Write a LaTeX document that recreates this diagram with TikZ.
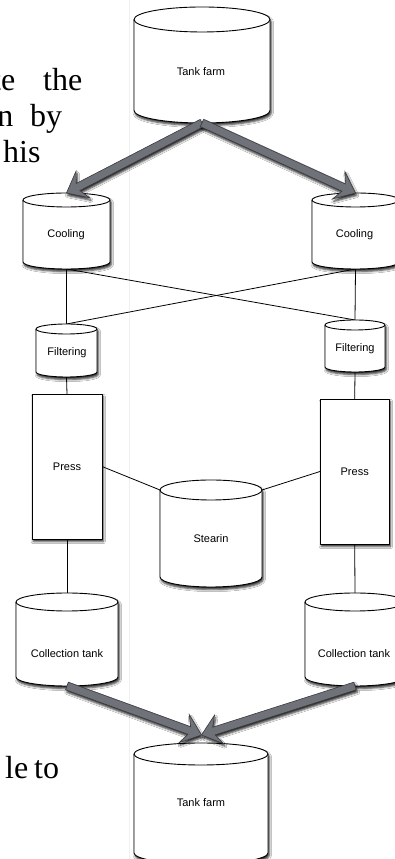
\documentclass[tikz,border=0pt]{standalone}
\usepackage{fontspec}
\setmainfont{Liberation Serif}
\newfontfamily\labelfont{Liberation Sans}
\usetikzlibrary{calc,shadows.blur}

\definecolor{arrowfill}{RGB}{112,114,122}
\definecolor{arrowedge}{RGB}{58,58,64}

\tikzset{
  shapeline/.style={draw=black, line width=0.9pt, fill=white, line join=round},
  shadowed/.style={blur shadow={shadow xshift=1.2pt, shadow yshift=-2.5pt,
      shadow blur radius=2.2pt, shadow opacity=85}},
  box/.style={rectangle, inner sep=0pt, outer sep=0pt},
  procbox/.style={box, shapeline, shadowed,
      font=\labelfont\fontsize{11}{13}\selectfont},
  lbl/.style={font=\labelfont\fontsize{11}{13}\selectfont, inner sep=0pt},
  link/.style={draw=black, line width=0.8pt},
  fatarrow/.style={fill=arrowfill, draw=arrowedge, line width=0.6pt,
      line join=miter, shadowed},
  bodytext/.style={font=\fontsize{32}{37}\selectfont, inner sep=0pt},
}

% cylinder outline drawn around a bounding node; #2 = radius of the end ellipses
\newcommand\tankshape[2]{%
  \path[shapeline, shadowed]
    let \p1=(#1.north west), \p2=(#1.south east), \n1={(\x2-\x1)/2} in
    (\x1,\y1-#2pt) -- (\x1,\y2+#2pt)
      arc[start angle=180, end angle=360, x radius=\n1, y radius=#2pt]
    -- (\x2,\y1-#2pt)
      arc[start angle=0, end angle=180, x radius=\n1, y radius=#2pt] -- cycle;
  \path[draw=black, line width=0.9pt]
    let \p1=(#1.north west), \p2=(#1.south east), \n1={(\x2-\x1)/2} in
    (\x1,\y1-#2pt) arc[start angle=180, end angle=360, x radius=\n1, y radius=#2pt];
}

% broad grey arrow with a swept-back head; #1 = name, #2 = from, #3 = to
\newcommand\fatarrow[3]{%
  \coordinate (#1-notch) at ($(#3)!13pt!(#2)$);
  \coordinate (#1-barb) at ($(#3)!18.5pt!(#2)$);
  \path[fatarrow]
    ($(#2)!4pt!90:(#3)$) -- ($(#1-notch)!4pt!90:(#3)$)
    -- ($(#1-barb)!15pt!90:(#3)$) -- (#3)
    -- ($(#1-barb)!15pt!-90:(#3)$) -- ($(#1-notch)!4pt!-90:(#3)$)
    -- ($(#2)!4pt!-90:(#3)$) -- cycle;
}

\begin{document}
\begin{tikzpicture}[x=1pt, y=1pt]
\useasboundingbox (0,0) rectangle (395,859);
\clip (0,0) rectangle (395,859);
\fill[white] (0,0) rectangle (395,859);

% running text of the page beside the figure
\node[bodytext, anchor=base east] (w1a) at (15.5,768) {te};
\node[bodytext, anchor=base west] (w1b) at (43,768) {the};
\node[bodytext, anchor=base east] (w2a) at (13.5,732) {n};
\node[bodytext, anchor=base west] (w2b) at (30,732) {by};
\node[bodytext, anchor=base west] (w3) at (3,696) {his};
\node[bodytext, anchor=base east] (w4a) at (28.5,80) {le};
\node[bodytext, anchor=base west] (w4b) at (34,80) {to};

% faint edge of the figure frame
\draw[black!6, line width=1pt] (129,0) -- (129,859);

% bounding boxes of the vessels
\node[box, minimum width=136pt, minimum height=116pt] (tankTop) at (202,794) {};
\node[box, minimum width=87pt,  minimum height=76pt]  (coolL)   at (66.5,628) {};
\node[box, minimum width=87pt,  minimum height=76pt]  (coolR)   at (355.5,628) {};
\node[box, minimum width=61pt,  minimum height=53pt]  (filtL)   at (66.5,508.5) {};
\node[box, minimum width=60pt,  minimum height=52pt]  (filtR)   at (355,513) {};
\node[box, minimum width=102pt, minimum height=107pt] (stearin) at (211,325.5) {};
\node[box, minimum width=102pt, minimum height=93pt]  (collL)   at (67,219.5) {};
\node[box, minimum width=100pt, minimum height=93pt]  (collR)   at (355,219.5) {};
\node[box, minimum width=134pt, minimum height=121pt] (tankBot) at (201,55.5) {};
\coordinate (meet) at ($(tankBot.north)+(0.5,8)$);
\coordinate (stearinW) at ($(stearin.north west)+(0,-10)$);
\coordinate (stearinE) at ($(stearin.north east)+(0,-10)$);

% thin pipes
\draw[link] (coolL.south) -- (filtL.north);
\draw[link] (coolR.south) -- (filtR.north);
\draw[link] (coolL.south) -- (filtR.north);
\draw[link] (coolR.south) -- (filtL.north);
\draw[link] (filtL.south) -- (67,465);
\draw[link] (filtR.south) -- (354.7,460);
\draw[link] (67,320) -- (collL.north);
\draw[link] (354.7,315) -- (collR.north);
\draw[link] (102,392.5) -- (stearinW);
\draw[link] (stearinE) -- (320,387.5);

% presses
\node[procbox, minimum width=70pt, minimum height=145pt] (pressL) at (67,392.5) {Press};
\node[procbox, minimum width=69pt, minimum height=145pt] (pressR) at (354.7,387.5) {Press};

% vessels
\tankshape{tankTop}{12.5}
\tankshape{coolL}{7}
\tankshape{coolR}{7}
\tankshape{filtL}{5}
\tankshape{filtR}{5}
\tankshape{stearin}{10}
\tankshape{collL}{9}
\tankshape{collR}{9}
\tankshape{tankBot}{11}

\node[lbl] (tankTopText) at (201,787) {Tank farm};
\node[lbl] (coolLText) at (66,624) {Cooling};
\node[lbl] (coolRText) at (354.5,624) {Cooling};
\node[lbl] (filtLText) at (67,506) {Filtering};
\node[lbl] (filtRText) at (355,510) {Filtering};
\node[lbl] (stearinText) at (211,320) {Stearin};
\node[lbl] (collLText) at (67,205) {Collection tank};
\node[lbl] (collRText) at (354,205) {Collection tank};
\node[lbl] (tankBotText) at (201,56) {Tank farm};

% main flow arrows
\fatarrow{aL}{tankTop.south}{coolL.north}
\fatarrow{aR}{tankTop.south}{coolR.north}
\fatarrow{bL}{collL.south}{meet}
\fatarrow{bR}{collR.south}{meet}
\end{tikzpicture}
\end{document}
